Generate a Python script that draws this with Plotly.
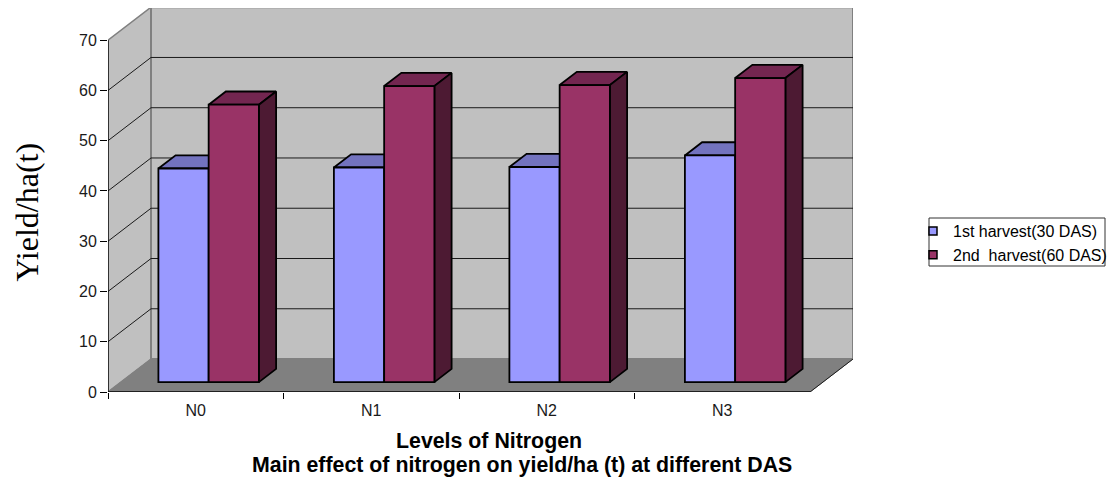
import plotly.graph_objects as go

categories = ["N0", "N1", "N2", "N3"]
first_harvest = [42.5, 42.7, 42.8, 45.1]
second_harvest = [55.2, 58.9, 59.1, 60.5]
series_names = ["1st harvest(30 DAS)", "2nd\u00a0 harvest(60 DAS)"]
y_ticks = [0, 10, 20, 30, 40, 50, 60, 70]

# Chart-box projection: one unit of depth shifts by DX categories and DY value units
DX = 43 / 175.5
DY = 33 / 5.03
BAR_NEAR, BAR_FAR = 0.3, 0.7
BAR_W = 0.2863
X0, X1 = -0.5, 3.5
Y_MAX = 70
X_RANGE = [X0, X0 + 745 / 175.5]
Y_RANGE = [0, 384.3 / 5.03]

FONT = "Liberation Sans, Arial, sans-serif"
WALL = "#c0c0c0"
EDGE = "#808080"
FIRST = dict(front="#9999ff", top="#7373bf", side="#4d4d80")
SECOND = dict(front="#993366", top="#732650", side="#4d1a33")
OUTLINE = 1.8


def poly(color, xs, ys, line_color=None, width=1.5):
    return go.Scatter(
        x=xs, y=ys, mode="lines", fill="toself", fillcolor=color,
        line=dict(color=line_color or color, width=width),
        hoverinfo="skip", showlegend=False, cliponaxis=False,
    )


def lines(color, width, xs, ys):
    return go.Scatter(
        x=xs, y=ys, mode="lines", line=dict(color=color, width=width),
        hoverinfo="skip", showlegend=False, cliponaxis=False,
    )


fig = go.Figure()

# Walls and floor
fig.add_trace(poly(WALL, [X0, X0 + DX, X0 + DX, X0, X0], [0, DY, Y_MAX + DY, Y_MAX, 0], EDGE, 1.5))
fig.add_trace(poly(WALL, [X0 + DX, X1 + DX, X1 + DX, X0 + DX, X0 + DX],
                   [DY, DY, Y_MAX + DY, Y_MAX + DY, DY], EDGE, 2))
fig.add_trace(poly(EDGE, [X0, X1, X1 + DX, X0 + DX, X0], [0, 0, DY, DY, 0], EDGE, 1))

# Gridlines along the side wall and back wall
gx, gy = [], []
for v in y_ticks[1:-1]:
    gx += [X0, X0 + DX, X1 + DX, None]
    gy += [v, v + DY, v + DY, None]
fig.add_trace(lines("#1a1a1a", 1, gx, gy))
fig.add_trace(lines("#1a1a1a", 1, [X1, X1 + DX], [0, DY]))


def box_sides(values, offset):
    tx, ty, sx, sy = [], [], [], []
    for i, v in enumerate(values):
        c = i + BAR_NEAR * DX + offset
        left, right = c - BAR_W / 2, c + BAR_W / 2
        d = (BAR_FAR - BAR_NEAR)
        b = BAR_NEAR * DY
        tx += [left, right, right + d * DX, left + d * DX, left, None]
        ty += [b + v, b + v, b + v + d * DY, b + v + d * DY, b + v, None]
        sx += [right, right + d * DX, right + d * DX, right, right, None]
        sy += [b, b + d * DY, b + v + d * DY, b + v, b, None]
    return tx, ty, sx, sy


for vals, off, col in [(first_harvest, -BAR_W / 2, FIRST), (second_harvest, BAR_W / 2, SECOND)]:
    tx, ty, sx, sy = box_sides(vals, off)
    fig.add_trace(poly(col["top"], tx, ty, "#000000", OUTLINE))
    fig.add_trace(poly(col["side"], sx, sy, "#000000", OUTLINE))

# Axis lines
fig.add_trace(lines("#000000", 1.3, [X0, X0, X1], [Y_MAX, 0, 0]))
fig.add_trace(lines(EDGE, 1.3, [X1, X1], [0, -6 / 5.03]))

# Front faces on an overlaid axis pair so that they sit above the scatter layer
for vals, off, col, name in [(first_harvest, -BAR_W / 2, FIRST, series_names[0]),
                             (second_harvest, BAR_W / 2, SECOND, series_names[1])]:
    fig.add_trace(go.Bar(
        x=[i + BAR_NEAR * DX + off for i in range(len(categories))],
        y=vals, base=BAR_NEAR * DY, width=BAR_W, name=name, showlegend=False,
        marker=dict(color=col["front"], line=dict(color="#000000", width=OUTLINE)),
        xaxis="x2", yaxis="y2", cliponaxis=False,
    ))

# Legend entries
for col, name in [(FIRST, series_names[0]), (SECOND, series_names[1])]:
    fig.add_trace(go.Scatter(
        x=[None], y=[None], mode="markers", name=name,
        marker=dict(symbol="square", size=8, color=col["front"], line=dict(color="#000000", width=1.5)),
    ))

boundaries = [X0 + i for i in range(len(categories))]

fig.update_layout(
    width=1109, height=482, autosize=False,
    margin=dict(l=108, r=256, t=8, b=90, autoexpand=False),
    paper_bgcolor="white", plot_bgcolor="white",
    barmode="overlay",
    font=dict(family=FONT, size=16, color="#000000"),
    xaxis=dict(
        range=X_RANGE, showgrid=False, zeroline=False, showline=False,
        tickmode="array", tickvals=list(range(len(categories))), ticktext=categories,
        ticks="", ticklabelstandoff=7, tickfont=dict(family=FONT, size=16, color="#1a1a1a"),
        minor=dict(tickmode="array", tickvals=boundaries, ticks="outside", ticklen=6,
                   tickcolor="#000000", tickwidth=1.3, showgrid=False),
    ),
    yaxis=dict(
        range=Y_RANGE, showgrid=False, zeroline=False, showline=False,
        tickmode="array", tickvals=y_ticks, ticks="outside", ticklen=7,
        tickcolor="#000000", tickwidth=1.3, tickfont=dict(family=FONT, size=16, color="#1a1a1a"),
    ),
    xaxis2=dict(range=X_RANGE, overlaying="x", visible=False),
    yaxis2=dict(range=Y_RANGE, overlaying="y", visible=False),
    legend=dict(
        x=(913 - 108) / 745, xref="paper", xanchor="left",
        y=(392 - 243) / 384, yanchor="middle",
        bgcolor="rgba(0,0,0,0)", borderwidth=0, font=dict(family=FONT, size=16),
        itemwidth=30, tracegroupgap=0,
    ),
    showlegend=True,
    annotations=[
        dict(text="Yield/ha(t)", xref="paper", yref="paper", x=(27 - 108) / 745, y=(392 - 212.5) / 384,
             textangle=-90, showarrow=False, xanchor="center", yanchor="middle",
             font=dict(family="Liberation Serif, Times New Roman, serif", size=32)),
        dict(text="<b>Levels of Nitrogen</b>", xref="paper", yref="paper", x=(489 - 108) / 745, y=(392 - 441) / 384,
             showarrow=False, xanchor="center", yanchor="middle", font=dict(family=FONT, size=21.33)),
        dict(text="<b>Main effect of nitrogen on yield/ha (t) at different DAS</b>", xref="paper", yref="paper",
             x=(522 - 108) / 745, y=(392 - 465) / 384, showarrow=False, xanchor="center", yanchor="middle",
             font=dict(family=FONT, size=21.33)),
    ],
    shapes=[dict(type="rect", xref="paper", yref="paper",
                 x0=(929 - 108) / 745, x1=(1105 - 108) / 745,
                 y0=(392 - 266) / 384, y1=(392 - 218) / 384,
                 line=dict(color="#333333", width=1), fillcolor="rgba(0,0,0,0)")],
)

fig.write_html("out.html", config=dict(displayModeBar=False),
               post_script="document.body.style.margin='0';window.dispatchEvent(new Event('resize'));")
